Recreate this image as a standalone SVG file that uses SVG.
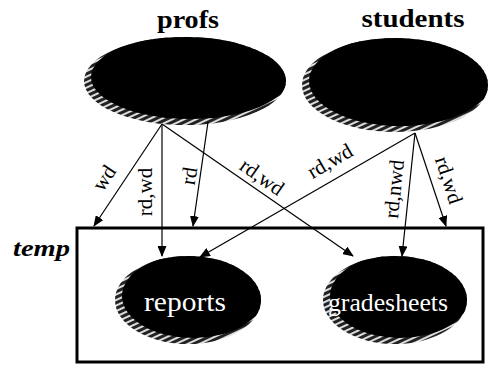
<svg xmlns="http://www.w3.org/2000/svg" width="490" height="367" viewBox="0 0 490 367">
<style>
.title{font-family:"Liberation Serif",serif;font-weight:bold;fill:#000}
.elab{font-family:"Liberation Serif",serif;font-size:21px;fill:#000;text-anchor:middle}
.nlab{font-family:"Liberation Serif",serif;fill:#fff;text-anchor:middle}
.edge{stroke:#000;stroke-width:1.2;fill:none;marker-end:url(#arr)}
.blk{fill:#000}
</style>
<defs>
<marker id="arr" markerUnits="userSpaceOnUse" markerWidth="11" markerHeight="9" refX="10" refY="4.5" orient="auto">
<path d="M0,0 L11,4.5 L0,9 z" fill="#000"/>
</marker>
<pattern id="hatch" width="5" height="5" patternUnits="userSpaceOnUse" patternTransform="rotate(-25)">
<rect width="5" height="5" fill="#222"/>
<rect width="5" height="2" fill="#ddd"/>
</pattern>
<clipPath id="cpProfs"><ellipse cx="185" cy="81" rx="101" ry="44"/></clipPath>
<clipPath id="cpStud"><ellipse cx="395" cy="85" rx="93" ry="47"/></clipPath>
<clipPath id="cpRep"><ellipse cx="188" cy="300" rx="73" ry="44"/></clipPath>
<clipPath id="cpGrade"><ellipse cx="395" cy="300" rx="72" ry="44"/></clipPath>
</defs>

<g id="profs">
<text class="title" x="188" y="28" font-size="25" text-anchor="middle" textLength="62" lengthAdjust="spacingAndGlyphs">profs</text>
<ellipse cx="185" cy="81" rx="101" ry="44" fill="url(#hatch)"/>
<ellipse class="blk" cx="190" cy="77" rx="99" ry="42" clip-path="url(#cpProfs)"/>
</g>

<g id="students">
<text class="title" x="413" y="27" font-size="25" text-anchor="middle" textLength="103" lengthAdjust="spacingAndGlyphs">students</text>
<ellipse cx="395" cy="85" rx="93" ry="47" fill="url(#hatch)"/>
<ellipse class="blk" cx="400" cy="81" rx="91" ry="45" clip-path="url(#cpStud)"/>
</g>

<g id="temp">
<rect x="77" y="228" width="406" height="134" fill="none" stroke="#000" stroke-width="3"/>
<text class="title" x="13" y="256" font-size="23" font-style="italic" textLength="57" lengthAdjust="spacingAndGlyphs">temp</text>
</g>

<g id="reports">
<ellipse cx="188" cy="300" rx="73" ry="44" fill="url(#hatch)"/>
<ellipse class="blk" cx="193" cy="296" rx="71" ry="42" clip-path="url(#cpRep)"/>
<text class="nlab" x="185" y="311" font-size="27" textLength="82" lengthAdjust="spacingAndGlyphs">reports</text>
</g>

<g id="gradesheets">
<ellipse cx="395" cy="300" rx="72" ry="44" fill="url(#hatch)"/>
<ellipse class="blk" cx="400" cy="296" rx="70" ry="42" clip-path="url(#cpGrade)"/>
<text class="nlab" x="388" y="311" font-size="25" textLength="120" lengthAdjust="spacingAndGlyphs">gradesheets</text>
</g>

<g id="connectors">
<path class="edge" d="M162,124 L94,226"/>
<path class="edge" d="M162,124 L162,256"/>
<path class="edge" d="M162,124 L353,256"/>
<path class="edge" d="M208,122 L193,226" stroke-width="1.8"/>
<path class="edge" d="M415,133 L200,257"/>
<path class="edge" d="M415,133 L402,256"/>
<path class="edge" d="M415,133 L446,226"/>
<text class="elab" transform="translate(104,178) rotate(-56)" y="7">wd</text>
<text class="elab" transform="translate(145,192) rotate(-90)" y="7">rd,wd</text>
<text class="elab" transform="translate(189,176) rotate(-81)" y="7">rd</text>
<text class="elab" transform="translate(262,177) rotate(35)" y="7">rd,wd</text>
<text class="elab" transform="translate(330,161) rotate(-30)" y="7">rd,wd</text>
<text class="elab" transform="translate(394,189) rotate(-84)" y="7">rd,nwd</text>
<text class="elab" transform="translate(449,180) rotate(72)" y="7">rd,wd</text>
</g>
</svg>
